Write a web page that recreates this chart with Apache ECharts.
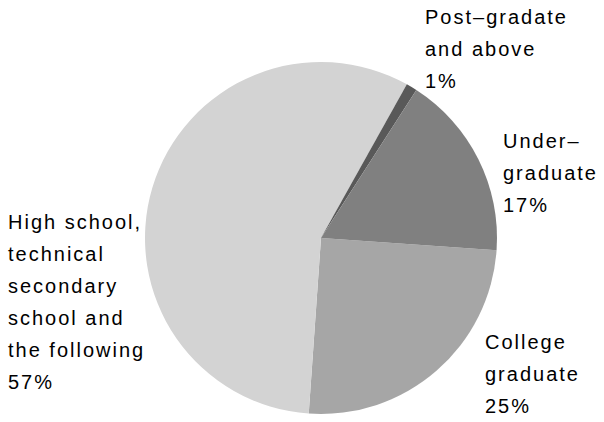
<!DOCTYPE html>
<html>
<head>
<meta charset="utf-8">
<script src="https://cdn.jsdelivr.net/npm/echarts@6/dist/echarts.min.js"></script>
<style>
	html, body { margin: 0; padding: 0; background: #fff; }
	#chart {
		width: 604px;
		height: 422px;
		/* the labels in the picture are letter-spaced */
		letter-spacing: 2px;
	}
</style>
</head>
<body>
<div id="chart"></div>
<script>
	// data, clockwise from the right edge
	var categories = ['College\ngraduate', 'High school,\ntechnical\nsecondary\nschool and\nthe following', 'Post–gradate\nand above', 'Under–\ngraduate'];
	var shares = [25, 57, 1, 17];
	var sliceColors = ['#a6a6a6', '#d3d3d3', '#595959', '#808080'];

	// label block anchors (left edge, vertical middle)
	var labelAnchor = [
		[485, 374],
		[8, 302],
		[425, 49],
		[503, 173]
	];

	var chart = echarts.init(document.getElementById('chart'), null, { renderer: 'svg' });

	var option = {
		animation: false,
		series: [{
			type: 'pie',
			center: [321, 238],
			radius: 176,
			startAngle: -4,
			clockwise: true,
			avoidLabelOverlap: false,
			label: {
				show: true,
				position: 'outside',
				formatter: '{b}\n{d}%',
				color: '#000',
				fontSize: 20,
				lineHeight: 32,
				fontFamily: 'Liberation Sans, Arial, sans-serif'
			},
			labelLine: { show: false },
			labelLayout: function (params) {
				var p = labelAnchor[params.dataIndex];
				return {
					x: p[0],
					y: p[1],
					align: 'left',
					verticalAlign: 'middle'
				};
			},
			itemStyle: { borderWidth: 0 },
			emphasis: { disabled: true },
			data: categories.map(function (name, i) {
				return {
					name: name,
					value: shares[i],
					itemStyle: { color: sliceColors[i] }
				};
			})
		}]
	};

	chart.setOption(option);
</script>
</body>
</html>
